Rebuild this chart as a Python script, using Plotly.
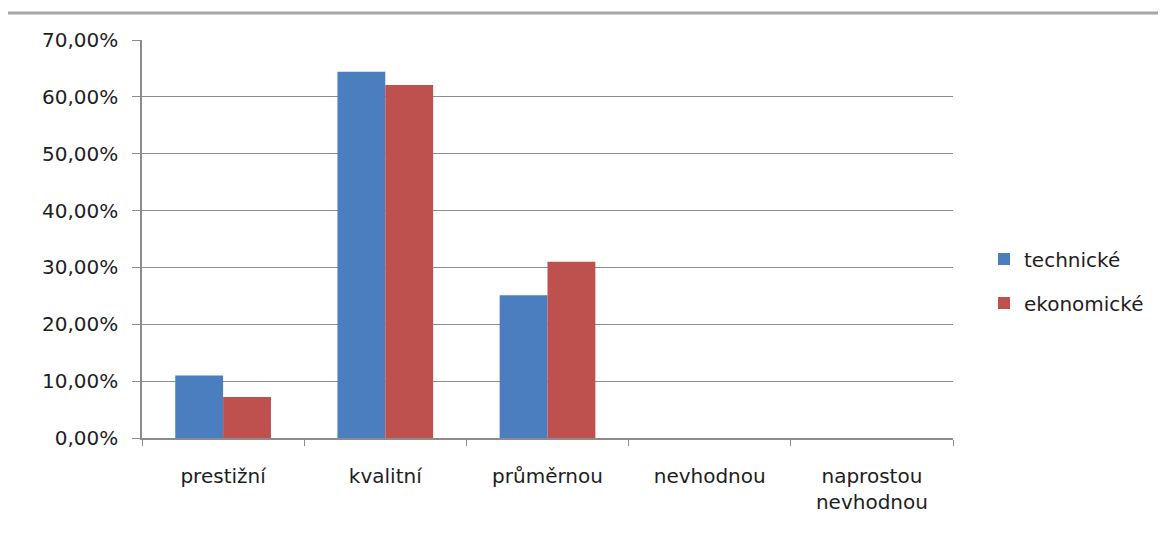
import plotly.graph_objects as go

categories = ["prestižní", "kvalitní", "průměrnou", "nevhodnou", "naprostou<br>nevhodnou"]
technicke = [0.11, 0.644, 0.251, 0.0, 0.0]
ekonomicke = [0.072, 0.621, 0.31, 0.0, 0.0]
series_names = ["technické", "ekonomické"]
colors = ["#4A7EBF", "#BE504D"]

OFF = 8  # page body margin
W, H = 1166 - OFF, 540 - OFF
L, R, T, B = 142 - OFF, 1166 - 953, 40 - OFF, 540 - 438
pw = W - L - R
ph = H - T - B

def px_x(p):
    return (p - OFF - L) / pw

def px_y(p):
    return (H - B - (p - OFF)) / ph

fig = go.Figure()
for name, vals, col in zip(series_names, [technicke, ekonomicke], colors):
    fig.add_trace(go.Bar(
        x=categories, y=vals, name=name, legendgroup=name,
        marker=dict(color=col, line=dict(width=0)),
    ))

font = dict(family="DejaVu Sans, sans-serif", size=20, color="#1e1e1e")

fig.update_layout(
    width=W, height=H,
    margin=dict(l=L, r=R, t=T, b=B, autoexpand=False),
    paper_bgcolor="white", plot_bgcolor="white",
    separators=", ",
    barmode="group", bargap=0.41, bargroupgap=0.0,
    font=font,
    showlegend=True,
    legend=dict(
        x=px_x(984), y=px_y(281), xanchor="left", yanchor="middle",
        traceorder="grouped", tracegroupgap=15,
        font=font, itemwidth=30,
    ),
    xaxis=dict(
        showline=True, linecolor="#8c8c8c", linewidth=1.5,
        ticks="outside", tickson="boundaries", ticklen=6, tickcolor="#8c8c8c",
        ticklabelstandoff=19, showgrid=False,
    ),
    yaxis=dict(
        range=[0, 0.7], dtick=0.1, tickformat=".2%",
        showline=True, linecolor="#8c8c8c", linewidth=1.5,
        ticks="outside", ticklen=8, tickcolor="#8c8c8c",
        ticklabelstandoff=10,
        showgrid=True, gridcolor="#8c8c8c", gridwidth=1,
        zeroline=False,
    ),
    shapes=[
        dict(type="line", xref="paper", yref="paper",
             x0=px_x(6), x1=px_x(1166), y0=px_y(13), y1=px_y(13),
             line=dict(color="#a6a6a6", width=3)),
        dict(type="line", xref="paper", yref="paper",
             x0=px_x(3), x1=px_x(3), y0=px_y(14), y1=px_y(540),
             line=dict(color="#b0b0b0", width=2, dash="dot")),
    ],
)

fig.write_html("out.html")
